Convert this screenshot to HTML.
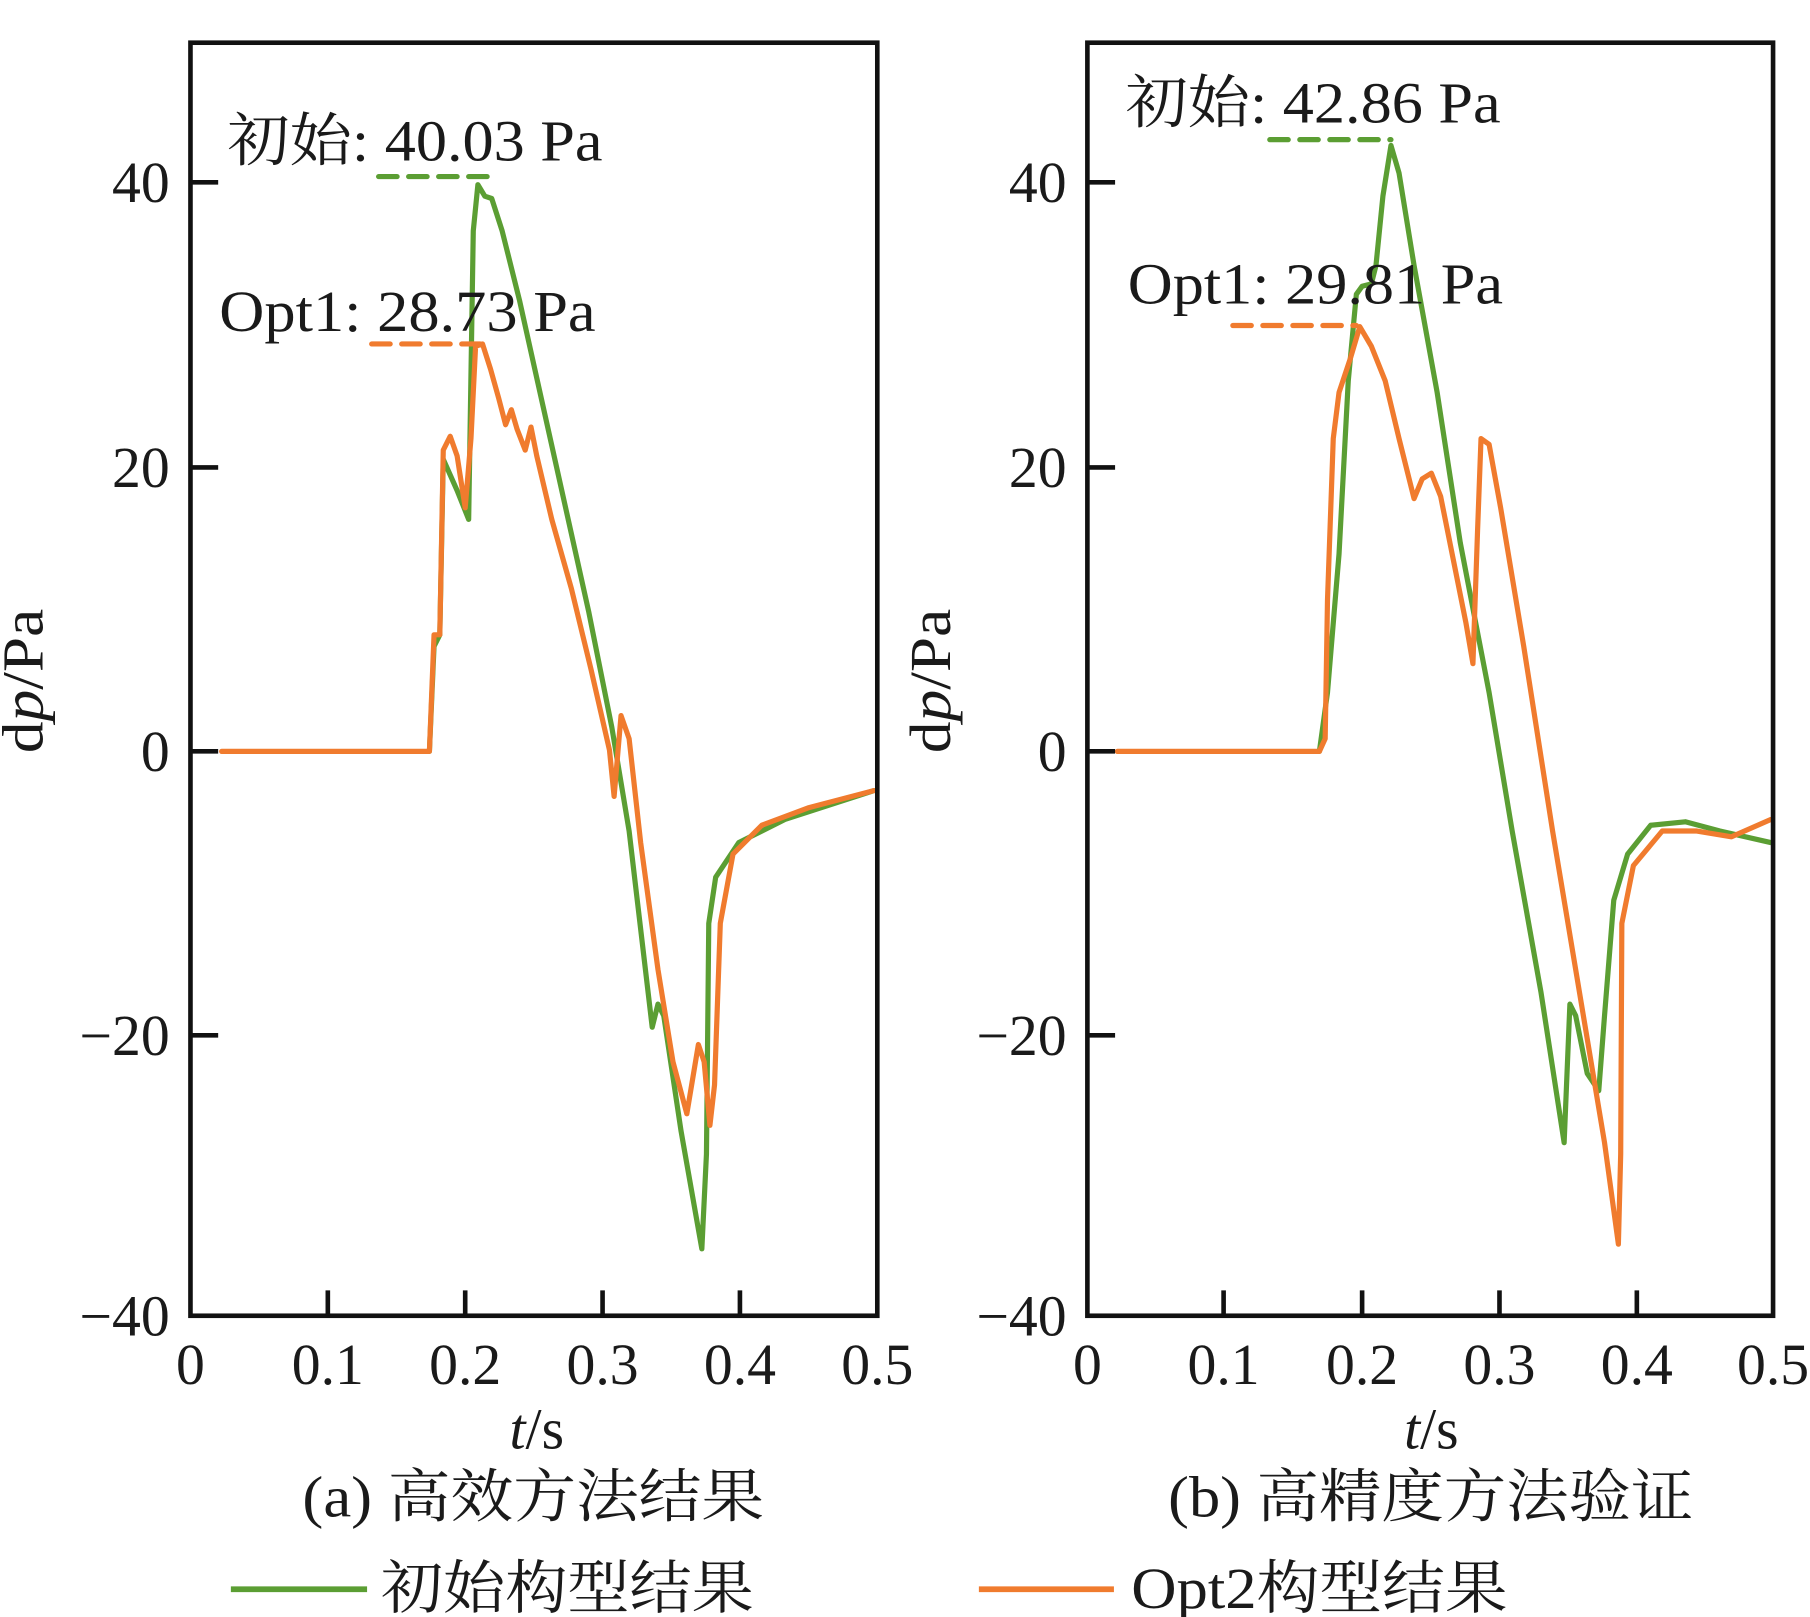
<!DOCTYPE html>
<html><head><meta charset="utf-8"><style>
html,body{margin:0;padding:0;background:#fff;}
svg{display:block;}
text{font-family:"Liberation Serif","Noto Serif CJK SC",serif;fill:#1a1a1a;}
</style></head><body>
<svg width="1810" height="1617" viewBox="0 0 1568 1401" preserveAspectRatio="none" xmlns="http://www.w3.org/2000/svg">
<g fill="none" stroke-linejoin="round" stroke-linecap="round">
<polyline stroke="#5b9e33" stroke-width="4.5" points="372,651 376,560 381,550 384,398 396,425 406,450 410,200 414,160 420,170 426,172 435,200 450,260 470,350 490,440 510,530 530,630 545,720 565,890 570,870 575,880 590,980 608,1082 612,1000 614,800 620,760 640,730 680,710 757,685"/>
<polyline stroke="#f07b2e" stroke-width="4.5" points="192,651 372,651 376,550 381,550 384,390 390,378 396,395 403,440 408,380 412,300 418,298 425,320 432,345 438,368 443,355 448,372 455,390 460,370 465,395 478,450 495,510 512,580 528,650 532,690 538,620 545,640 555,730 570,840 583,920 595,965 600,935 605,905 610,920 615,975 619,940 624,800 635,740 660,715 700,700 757,685"/>
<line x1="328" y1="153" x2="432" y2="153" stroke="#5b9e33" stroke-width="4.5" stroke-dasharray="16,10"/>
<line x1="322" y1="298" x2="425" y2="298" stroke="#f07b2e" stroke-width="4.5" stroke-dasharray="16,10"/>
<polyline stroke="#5b9e33" stroke-width="4.5" points="1143,651 1150,600 1160,480 1168,330 1175,255 1180,248 1188,246 1192,230 1198,170 1205,126 1212,150 1225,230 1245,340 1265,470 1290,600 1310,720 1335,860 1355,990 1360,870 1365,880 1375,930 1385,945 1390,880 1398,780 1410,740 1430,715 1460,712 1490,720 1534,730"/>
<polyline stroke="#f07b2e" stroke-width="4.5" points="968,651 1143,651 1148,640 1150,520 1155,380 1160,340 1170,310 1178,283 1188,300 1200,330 1212,380 1225,432 1232,415 1240,410 1248,430 1260,490 1270,540 1276,575 1280,460 1283,380 1290,385 1300,440 1320,560 1345,720 1370,870 1390,990 1402,1078 1404,1000 1405,800 1415,750 1440,720 1470,720 1500,725 1534,710"/>
<line x1="1100" y1="121" x2="1205" y2="121" stroke="#5b9e33" stroke-width="4.5" stroke-dasharray="16,10"/>
<line x1="1068" y1="282" x2="1175" y2="282" stroke="#f07b2e" stroke-width="4.5" stroke-dasharray="16,10"/>
</g>
<g stroke="#111" stroke-width="4" fill="none">
<rect x="165" y="37" width="595" height="1103"/>
<path d="M165,158h24M165,405h24M165,651h24M165,897h24M284,1140v-22M403,1140v-22M522,1140v-22M641,1140v-22"/>
<rect x="942" y="37" width="594" height="1103"/>
<path d="M942,158h24M942,405h24M942,651h24M942,897h24M1060,1140v-22M1180,1140v-22M1299,1140v-22M1418,1140v-22"/>
</g>
<g font-size="50" text-anchor="end">
<text x="147" y="175">40</text><text x="147" y="422">20</text><text x="147" y="668">0</text><text x="147" y="914">−20</text><text x="147" y="1157">−40</text>
<text x="924" y="175">40</text><text x="924" y="422">20</text><text x="924" y="668">0</text><text x="924" y="914">−20</text><text x="924" y="1157">−40</text>
</g>
<g font-size="50" text-anchor="middle">
<text x="165" y="1199">0</text><text x="284" y="1199">0.1</text><text x="403" y="1199">0.2</text><text x="522" y="1199">0.3</text><text x="641" y="1199">0.4</text><text x="760" y="1199">0.5</text>
<text x="942" y="1199">0</text><text x="1060" y="1199">0.1</text><text x="1180" y="1199">0.2</text><text x="1299" y="1199">0.3</text><text x="1418" y="1199">0.4</text><text x="1536" y="1199">0.5</text>
<text x="465" y="1255"><tspan font-style="italic">t</tspan>/s</text>
<text x="1240" y="1255"><tspan font-style="italic">t</tspan>/s</text>
</g>
<text font-size="50" text-anchor="middle" transform="translate(37,590) rotate(-90)" textLength="125" lengthAdjust="spacingAndGlyphs">d<tspan font-style="italic">p</tspan>/Pa</text>
<text font-size="50" text-anchor="middle" transform="translate(823,590) rotate(-90)" textLength="125" lengthAdjust="spacingAndGlyphs">d<tspan font-style="italic">p</tspan>/Pa</text>
<g font-size="50">
<text x="197" y="139" textLength="325" lengthAdjust="spacingAndGlyphs">初始: 40.03 Pa</text>
<text x="190" y="287" textLength="326" lengthAdjust="spacingAndGlyphs">Opt1: 28.73 Pa</text>
<text x="975" y="106" textLength="325" lengthAdjust="spacingAndGlyphs">初始: 42.86 Pa</text>
<text x="977" y="263" textLength="325" lengthAdjust="spacingAndGlyphs">Opt1: 29.81 Pa</text>
<text x="262" y="1314" textLength="400" lengthAdjust="spacingAndGlyphs">(a) 高效方法结果</text>
<text x="1012" y="1314" textLength="455" lengthAdjust="spacingAndGlyphs">(b) 高精度方法验证</text>
<text x="330" y="1393" textLength="323" lengthAdjust="spacingAndGlyphs">初始构型结果</text>
<text x="980" y="1393" textLength="326" lengthAdjust="spacingAndGlyphs">Opt2构型结果</text>
</g>
<line x1="200" y1="1377" x2="318" y2="1377" stroke="#5b9e33" stroke-width="5"/>
<line x1="848" y1="1377" x2="965" y2="1377" stroke="#f07b2e" stroke-width="5"/>
</svg>
</body></html>
